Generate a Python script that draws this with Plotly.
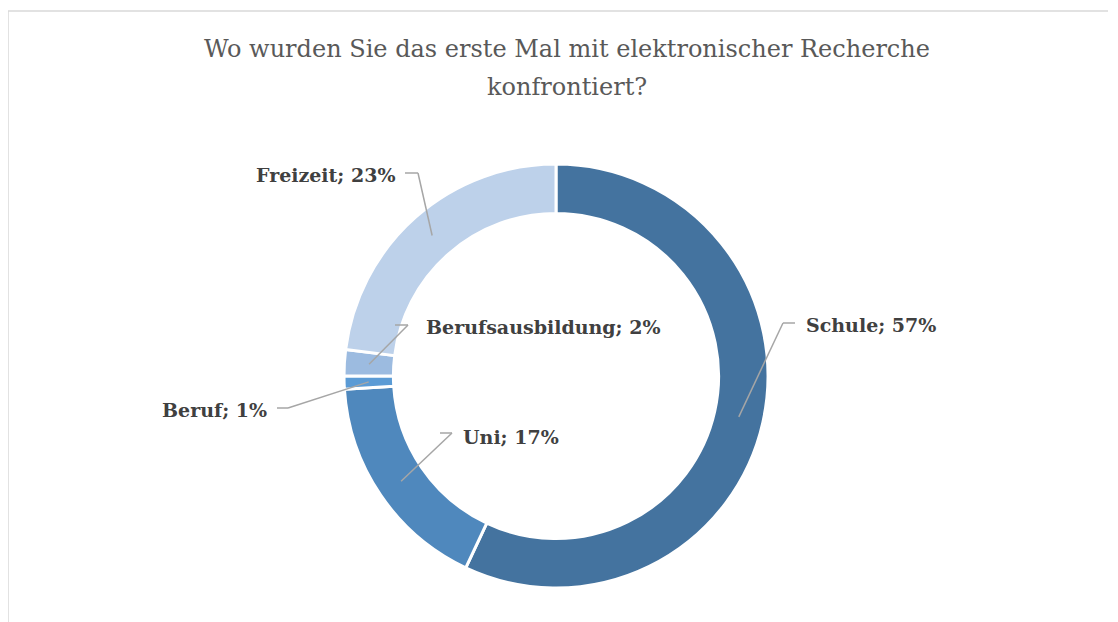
import math
import plotly.graph_objects as go

# ---- data ----
categories = ["Schule", "Uni", "Beruf", "Berufsausbildung", "Freizeit"]
values = [57, 17, 1, 2, 23]
colors = ["#44739F", "#4F88BD", "#5B9BD5", "#9CBBE0", "#BDD1EA"]
title_lines = ["Wo wurden Sie das erste Mal mit elektronischer Recherche", "konfrontiert?"]

# ---- layout constants (screen pixels) ----
W, H = 1118, 622
OFF = 8  # page body margin
cx, cy, R = 556, 376, 212
HOLE = 0.767
r_mid = R * (1 + HOLE) / 2

# label placement: (text x, text y, anchor, elbow x, line end x, line y)
label_layout = {
    "Schule":           (804, 325, "left", 783, 795, 323),
    "Uni":              (461, 437, "left", 452, 440, 433),
    "Beruf":            (269, 410, "right", 288, 277, 408),
    "Berufsausbildung": (424, 327, "left", 408, 395, 325),
    "Freizeit":         (397, 175, "right", 418, 405, 173),
}
title_y = [49, 87]

def px(x):
    return (x - OFF) / W

def py(y):
    return 1 - (y - OFF) / H

FONT = "'DejaVu Serif', 'Liberation Serif', serif"

fig = go.Figure()
fig.add_trace(go.Pie(
    labels=categories,
    values=values,
    hole=HOLE,
    sort=False,
    direction="clockwise",
    rotation=0,
    marker=dict(colors=colors, line=dict(color="white", width=3)),
    textinfo="none",
    hoverinfo="label+percent",
    domain=dict(x=[px(cx - R), px(cx + R)], y=[py(cy + R), py(cy - R)]),
    showlegend=False,
))

shapes = []
annotations = []
total = sum(values)
cum = 0
for cat, v in zip(categories, values):
    mid = (cum + v / 2) / total
    cum += v
    th = 2 * math.pi * mid
    sx = cx + r_mid * math.sin(th)
    sy = cy - r_mid * math.cos(th)
    tx, ty, anchor, ex, lx, ly = label_layout[cat]
    shapes.append(dict(type="line", xref="paper", yref="paper",
                       x0=px(sx), y0=py(sy), x1=px(ex), y1=py(ly),
                       line=dict(color="#A6A6A6", width=1.5)))
    shapes.append(dict(type="line", xref="paper", yref="paper",
                       x0=px(ex), y0=py(ly), x1=px(lx), y1=py(ly),
                       line=dict(color="#A6A6A6", width=1.5)))
    pct = round(100 * v / total)
    annotations.append(dict(
        text=f"<b>{cat}; {pct}%</b>", xref="paper", yref="paper",
        x=px(tx), y=py(ty), xanchor=anchor, yanchor="middle",
        showarrow=False, font=dict(family=FONT, size=19, color="#404040")))

# chart frame (top and left edges visible)
shapes.append(dict(type="line", xref="paper", yref="paper",
                   x0=px(8), y0=py(11), x1=px(1108), y1=py(11),
                   line=dict(color="#D9D9D9", width=1.5)))
shapes.append(dict(type="line", xref="paper", yref="paper",
                   x0=px(8), y0=py(11), x1=px(8), y1=py(H + 10),
                   line=dict(color="#D9D9D9", width=1.5)))

for line, ypos in zip(title_lines, title_y):
    annotations.append(dict(
        text=line, xref="paper", yref="paper",
        x=px(567), y=py(ypos), xanchor="center", yanchor="middle",
        showarrow=False, align="center",
        font=dict(family=FONT, size=24, color="#595959")))

fig.update_layout(
    width=W, height=H,
    margin=dict(l=0, r=0, t=0, b=0),
    paper_bgcolor="white",
    plot_bgcolor="white",
    shapes=shapes,
    annotations=annotations,
)

fig.write_html("out.html")
